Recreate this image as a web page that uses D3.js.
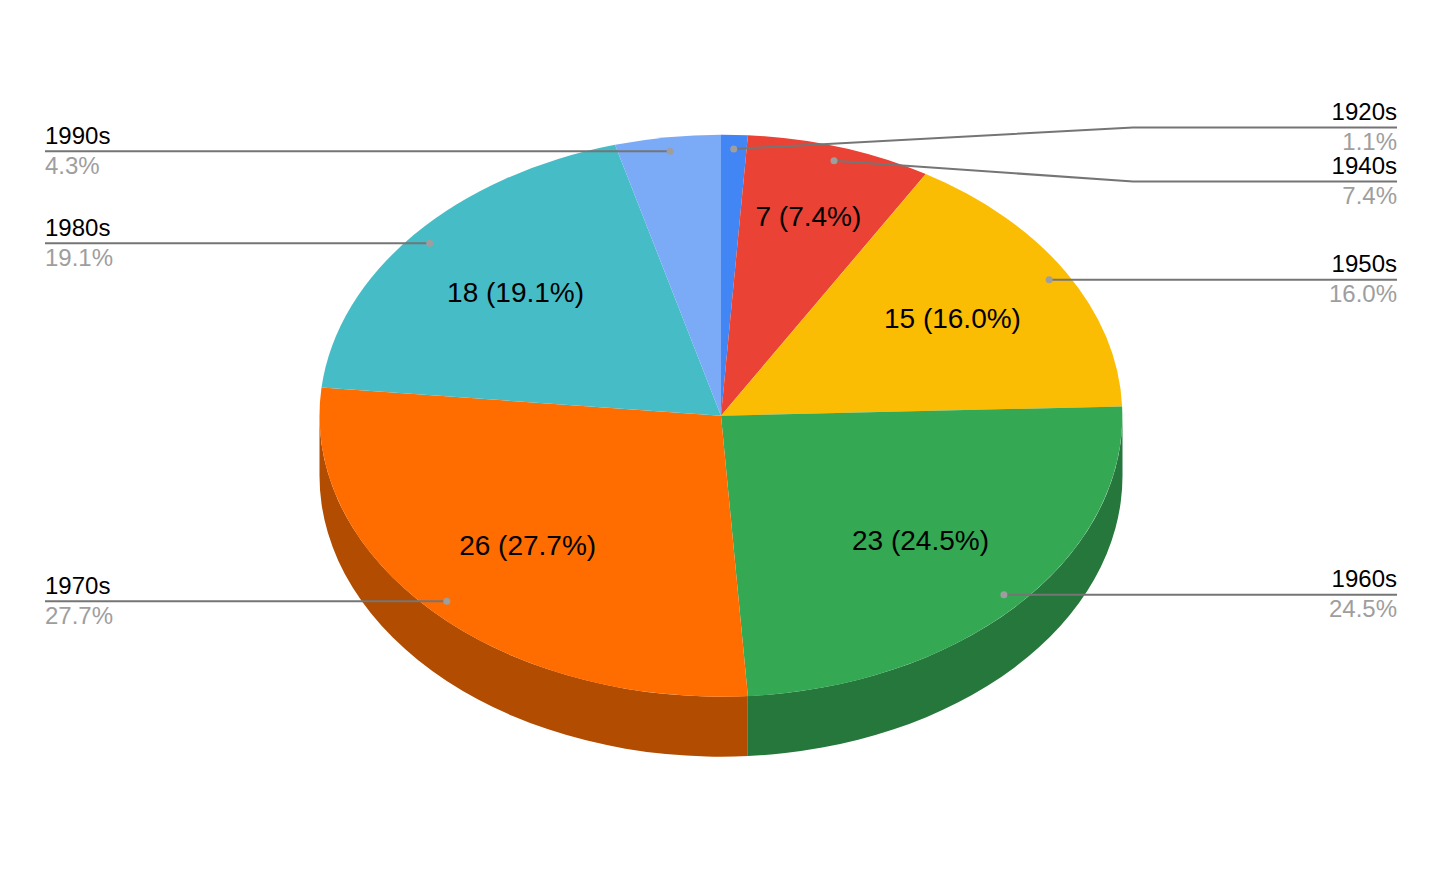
<!DOCTYPE html>
<html><head><meta charset="utf-8">
<style>html,body{margin:0;padding:0;background:#fff}svg{display:block}</style>
<script src="https://cdn.jsdelivr.net/npm/d3@7"></script></head><body>
<script>
const categories = ["1920s","1940s","1950s","1960s","1970s","1980s","1990s"];
const seriesValues = [1,7,15,23,26,18,4];
const percentLabels = ["1.1%","7.4%","16.0%","24.5%","27.7%","19.1%","4.3%"];
const colors = ["#4285f4","#ea4335","#fbbc04","#34a853","#ff6d01","#46bdc6","#7baaf7"];
const sideColors = ["#2e5daa","#a32f25","#af8303","#26773b","#b14c00","#31848a","#5677ac"];

const W=1442,H=892,cx=721,cy=415.7,rx=401.5,ry=281,depth=60;
const FONT='"Liberation Sans",Arial,sans-serif';
const svg=d3.select("body").append("svg").attr("width",W).attr("height",H);
const pie=d3.pie().sort(null).value(d=>d)(seriesValues);
const px=(a,r=1)=>cx+rx*r*Math.sin(a), py=(a,r=1)=>cy-ry*r*Math.cos(a);

// side wall (only the part of each slice on the near half of the ellipse)
const lo=Math.PI/2, hi=3*Math.PI/2;
pie.forEach((s,i)=>{
  const a=Math.max(s.startAngle,lo), b=Math.min(s.endAngle,hi);
  if(b<=a) return;
  svg.append("path").attr("fill",sideColors[i])
    .attr("d",`M${px(a)},${py(a)}A${rx},${ry} 0 0 1 ${px(b)},${py(b)}L${px(b)},${py(b)+depth}A${rx},${ry} 0 0 0 ${px(a)},${py(a)+depth}Z`);
});
// top face
const arc=d3.arc().innerRadius(0).outerRadius(1);
svg.append("g").attr("transform",`translate(${cx},${cy}) scale(${rx},${ry})`)
  .selectAll("path").data(pie).join("path").attr("d",arc).attr("fill",(d,i)=>colors[i]);

// value labels
pie.forEach((s,i)=>{
  if(seriesValues[i]<7) return;
  const m=(s.startAngle+s.endAngle)/2, r=seriesValues[i]<10?0.735:0.67;
  svg.append("text").attr("x",px(m,r)).attr("y",py(m,r)+8).attr("text-anchor","middle")
    .attr("font-family",FONT).attr("font-size",28).attr("fill","#000")
    .text(`${seriesValues[i]} (${percentLabels[i]})`);
});

// leaders
const LEFT=45, RIGHT=1397, ELBOW=1133;
const lineY={"1920s":127.5,"1940s":181.5};
pie.forEach((s,i)=>{
  const m=(s.startAngle+s.endAngle)/2, x=px(m,.95), y=py(m,.95);
  const right=m<Math.PI, cat=categories[i];
  const end=right?RIGHT:LEFT, ly=lineY[cat]??y;
  const pts=lineY[cat]?[[x,y],[ELBOW,ly],[end,ly]]:[[x,y],[end,ly]];
  svg.append("path").attr("fill","none").attr("stroke","#757575").attr("stroke-width",2)
    .attr("d",d3.line()(pts));
  svg.append("circle").attr("cx",x).attr("cy",y).attr("r",3.5).attr("fill","#9e9e9e");
  const anchor=right?"end":"start";
  svg.append("text").attr("x",end).attr("y",ly-(right?8:7.5)).attr("text-anchor",anchor)
    .attr("font-family",FONT).attr("font-size",24).attr("fill","#000").text(cat);
  svg.append("text").attr("x",end).attr("y",ly+(right?22:22.5)).attr("text-anchor",anchor)
    .attr("font-family",FONT).attr("font-size",24).attr("fill","#9e9e9e").text(percentLabels[i]);
});
</script></body></html>
